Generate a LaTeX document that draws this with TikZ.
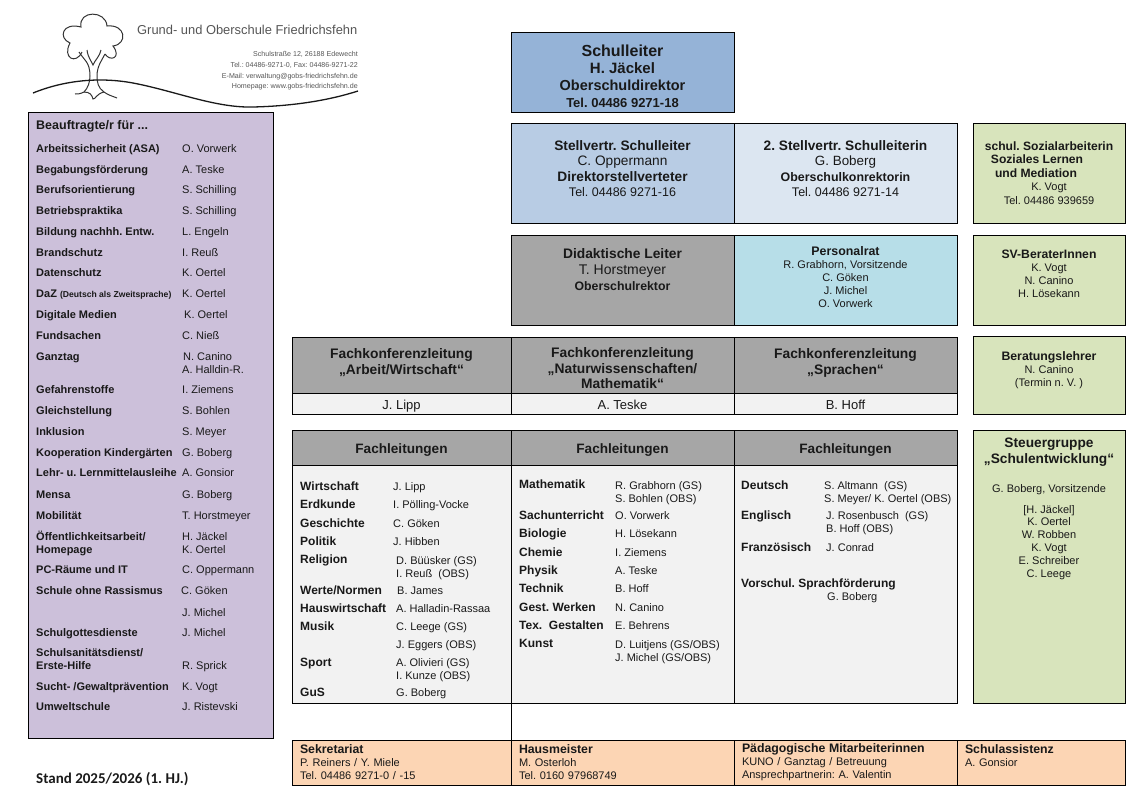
\documentclass[tikz,border=0pt]{standalone}
\usepackage{fontspec}
\setmainfont{Liberation Sans}
\newfontfamily\standfont{Carlito}
\frenchspacing
\newcommand{\fsz}[1]{\fontsize{#1}{#1}\selectfont}
\definecolor{leitung}{HTML}{95B3D7}
\definecolor{vertreter}{HTML}{B8CCE4}
\definecolor{zweiter}{HTML}{DCE6F1}
\definecolor{grau}{HTML}{A6A6A6}
\definecolor{hell}{HTML}{F2F2F2}
\definecolor{rat}{HTML}{B7DEE8}
\definecolor{gruen}{HTML}{D8E4BC}
\definecolor{orange}{HTML}{FCD5B4}
\definecolor{lila}{HTML}{CCC0DA}
\definecolor{logograu}{HTML}{555555}
\tikzset{
    box/.style={draw=black, line width=0.9pt, outer sep=0pt, inner sep=0pt, align=center, text=black!90},
    unten/.style={box, fill=orange, minimum height=45, inner xsep=8, align=left, font=\fontsize{11}{13}\selectfont},
    lab/.style={anchor=base west, inner sep=0pt, font=\bfseries\fsz{11}, text=black!90},
    wer/.style={anchor=base west, inner sep=0pt, font=\fsz{11}, text=black!90},
    fach/.style={anchor=base west, inner sep=0pt, font=\bfseries\fsz{12}, text=black!90},
    adr/.style={anchor=base east, inner sep=0pt, font=\fsz{7.1}, text=logograu},
}
\begin{document}
\begin{tikzpicture}[x=1pt, y=-1pt]
    \useasboundingbox (0,0) rectangle (1140,790);

    % logo
    \draw[line width=1pt, black!80] (82,52) .. controls (76,65) and (62,58) .. (70,43)
        .. controls (58,38) and (62,22) .. (81,27)
        .. controls (78,10) and (106,10) .. (107,26)
        .. controls (126,24) and (128,44) .. (113,46)
        .. controls (122,58) and (110,62) .. (105,54);
    \draw[line width=1pt, black!80] (79,52) .. controls (84,60) and (90,62) .. (90,76)
        .. controls (90,82) and (88,88) .. (84,92) .. controls (80,94) and (78,94) .. (75,94);
    \draw[line width=1pt, black!80] (105,54) .. controls (102,60) and (97,66) .. (97,76)
        .. controls (97,82) and (98,88) .. (104,92) .. controls (108,95) and (112,96) .. (117,98);
    \draw[line width=1pt, black!80] (87,50) .. controls (88,58) and (92,62) .. (93,65)
        .. controls (95,60) and (100,56) .. (101,50);
    \draw[line width=1pt, black!80] (84,92) .. controls (90,92) and (92,95) .. (93,99)
        .. controls (96,99) and (96,94) .. (104,92);
    \draw[line width=1.3pt, black!90] (33,93) .. controls (60,82) and (95,76) .. (133,83)
        .. controls (175,91) and (215,108) .. (253,107)
        .. controls (295,106) and (330,100) .. (358,91);
    \node[anchor=base west, inner sep=0pt, font=\fsz{12.9}, text=logograu] (schule) at (137,34) {Grund- und Oberschule Friedrichsfehn};
    \node[adr] (adr1) at (358,56) {Schulstraße 12, 26188 Edewecht};
    \node[adr] (adr2) at (358,67) {Tel.: 04486-9271-0, Fax: 04486-9271-22};
    \node[adr] (adr3) at (358,78) {E-Mail: verwaltung@gobs-friedrichsfehn.de};
    \node[adr] (adr4) at (358,88) {Homepage: www.gobs-friedrichsfehn.de};

    %%%%%%%%%%%%%%%%%%%%%%%%%%%%%%%%%%%%%%%%

    \node[box, fill=lila, minimum width=245, minimum height=626] (beauftragte) at (150.5,425) {};
    \node[anchor=base west, inner sep=0pt, font=\bfseries\fsz{12.5}, text=black!90] (btitel) at (36,129) {Beauftragte/r für ...};
    \node[lab] (asa) at (36,152) {Arbeitssicherheit (ASA)};
    \node[wer] (asan) at (182,152) {O. Vorwerk};
    \node[lab] (begab) at (36,173) {Begabungsförderung};
    \node[wer] (begabn) at (182,173) {A. Teske};
    \node[lab] (berufo) at (36,193) {Berufsorientierung};
    \node[wer] (berufon) at (182,193) {S. Schilling};
    \node[lab] (betrieb) at (36,214) {Betriebspraktika};
    \node[wer] (betriebn) at (182,214) {S. Schilling};
    \node[lab] (bildung) at (36,235) {Bildung nachhh. Entw.};
    \node[wer] (bildungn) at (182,235) {L. Engeln};
    \node[lab] (brand) at (36,256) {Brandschutz};
    \node[wer] (brandn) at (182,256) {I. Reuß};
    \node[lab] (daten) at (36,276) {Datenschutz};
    \node[wer] (datenn) at (182,276) {K. Oertel};
    \node[lab] (daz) at (36,297) {DaZ {\fsz{8.6}(Deutsch als Zweitsprache)}};
    \node[wer] (dazn) at (182,297) {K. Oertel};
    \node[lab] (digital) at (36,318) {Digitale Medien};
    \node[wer] (digitaln) at (184,318) {K. Oertel};
    \node[lab] (fund) at (36,339) {Fundsachen};
    \node[wer] (fundn) at (182,339) {C. Nieß};
    \node[lab] (ganztag) at (36,360) {Ganztag};
    \node[wer] (ganztagn) at (183,360) {N. Canino};
    \node[wer] (ganztagm) at (182,373) {A. Halldin-R.};
    \node[lab] (gefahr) at (36,393) {Gefahrenstoffe};
    \node[wer] (gefahrn) at (182,393) {I. Ziemens};
    \node[lab] (gleich) at (36,414) {Gleichstellung};
    \node[wer] (gleichn) at (182,414) {S. Bohlen};
    \node[lab] (inklusion) at (36,435) {Inklusion};
    \node[wer] (inklusionn) at (182,435) {S. Meyer};
    \node[lab] (koop) at (36,456) {Kooperation Kindergärten};
    \node[wer] (koopn) at (182,456) {G. Boberg};
    \node[lab] (lehr) at (36,476) {Lehr- u. Lernmittelausleihe};
    \node[wer] (lehrn) at (182,476) {A. Gonsior};
    \node[lab] (mensa) at (36,498) {Mensa};
    \node[wer] (mensan) at (182,498) {G. Boberg};
    \node[lab] (mobil) at (36,519) {Mobilität};
    \node[wer] (mobiln) at (182,519) {T. Horstmeyer};
    \node[lab] (oeffent) at (36,540) {Öffentlichkeitsarbeit/};
    \node[wer] (oeffentn) at (182,540) {H. Jäckel};
    \node[lab] (home) at (36,553) {Homepage};
    \node[wer] (homen) at (182,553) {K. Oertel};
    \node[lab] (pcraum) at (36,573) {PC-Räume und IT};
    \node[wer] (pcraumn) at (182,573) {C. Oppermann};
    \node[lab] (rassismus) at (36,594) {Schule ohne Rassismus};
    \node[wer] (rassismusn) at (181,594) {C. Göken};
    \node[wer] (rassismusm) at (182,616) {J. Michel};
    \node[lab] (gottes) at (36,636) {Schulgottesdienste};
    \node[wer] (gottesn) at (182,636) {J. Michel};
    \node[lab] (sani) at (36,656) {Schulsanitätsdienst/};
    \node[lab] (hilfe) at (36,669) {Erste-Hilfe};
    \node[wer] (hilfen) at (182,669) {R. Sprick};
    \node[lab] (sucht) at (36,690) {Sucht- /Gewaltprävention};
    \node[wer] (suchtn) at (182,690) {K. Vogt};
    \node[lab] (umwelt) at (36,710) {Umweltschule};
    \node[wer] (umweltn) at (182,710) {J. Ristevski};
    \node[anchor=base west, inner sep=0pt, font=\standfont\bfseries\fsz{15}, text=black!90] (stand) at (36,783) {Stand 2025/2026 (1. HJ.)};

    %%%%%%%%%%%%%%%%%%%%%%%%%%%%%%%%%%%%%%%%

    \node[box, fill=leitung, minimum width=223, minimum height=80, font=\fontsize{12}{17}\selectfont] (leiter) at (622.5,72)
        {~\\[4pt]{\bfseries\fsz{16}Schulleiter}\\{\bfseries\fsz{15}H. Jäckel}\\{\bfseries\fsz{14.5}Oberschuldirektor}\\{\bfseries\fsz{13}Tel. 04486 9271-18}};
    \node[box, fill=vertreter, minimum width=223, minimum height=100, font=\fontsize{12}{15.5}\selectfont] (stellv) at (622.5,173)
        {{\bfseries\fsz{13.7}Stellvertr. Schulleiter}\\{\fsz{13.7}C. Oppermann}\\{\bfseries\fsz{13.7}Direktorstellverteter}\\{\fsz{12.5}Tel. 04486 9271-16}\\[-7pt]~};
    \node[box, fill=zweiter, minimum width=223, minimum height=100, font=\fontsize{12}{15.5}\selectfont] (stellz) at (845.5,173)
        {{\bfseries\fsz{13.7}2. Stellvertr. Schulleiterin}\\{\fsz{13.4}G. Boberg}\\{\bfseries\fsz{12.4}Oberschulkonrektorin}\\{\fsz{12.5}Tel. 04486 9271-14}\\[-7pt]~};
    \node[box, fill=gruen, minimum width=152, minimum height=100, font=\fontsize{11}{13.5}\selectfont] (sozial) at (1049,173)
        {{\bfseries\fsz{12.1}schul. Sozialarbeiterin}\\\hspace*{-24pt}{\bfseries\fsz{12.1}Soziales Lernen}\\\hspace*{-26pt}{\bfseries\fsz{12.1}und Mediation}\\{\fsz{11}K. Vogt}\\{\fsz{11}Tel. 04486 939659}};
    \node[box, fill=grau, minimum width=223, minimum height=90, font=\fontsize{12}{16}\selectfont] (didakt) at (622.5,280)
        {{\bfseries\fsz{13.8}Didaktische Leiter}\\{\fsz{14}T. Horstmeyer}\\{\bfseries\fsz{12.3}Oberschulrektor}\\[6pt]~};
    \node[box, fill=rat, minimum width=223, minimum height=90, font=\fontsize{10}{13}\selectfont] (rat) at (845.5,280)
        {{\bfseries\fsz{12.4}Personalrat}\\{\fsz{11}R. Grabhorn, Vorsitzende}\\{\fsz{11}C. Göken}\\{\fsz{11}J. Michel}\\{\fsz{11}O. Vorwerk}\\[-8pt]~};
    \node[box, fill=gruen, minimum width=152, minimum height=90, font=\fontsize{10}{13}\selectfont] (sv) at (1049,280)
        {{\bfseries\fsz{12.2}SV-BeraterInnen}\\{\fsz{11}K. Vogt}\\{\fsz{11}N. Canino}\\{\fsz{11}H. Lösekann}\\[-1pt]~};

    %%%%%%%%%%%%%%%%%%%%%%%%%%%%%%%%%%%%%%%%

    \node[box, fill=grau, minimum width=219, minimum height=56, font=\fontsize{13.8}{15.5}\selectfont] (fk1) at (401.5,365)
        {\bfseries Fachkonferenzleitung\\\bfseries „Arbeit/Wirtschaft“\\[-8pt]~};
    \node[box, fill=grau, minimum width=223, minimum height=56, font=\fontsize{13.8}{15.5}\selectfont] (fk2) at (622.5,365)
        {~\\[1pt]\bfseries Fachkonferenzleitung\\\bfseries „Naturwissenschaften/\\\bfseries Mathematik“};
    \node[box, fill=grau, minimum width=223, minimum height=56, font=\fontsize{13.8}{15.5}\selectfont] (fk3) at (845.5,365)
        {\bfseries Fachkonferenzleitung\\\bfseries „Sprachen“\\[-8pt]~};
    \node[box, fill=hell, minimum width=219, minimum height=21, text height=11, text depth=0, font=\fsz{13}] (fk1n) at (401.5,403.5) {J. Lipp};
    \node[box, fill=hell, minimum width=223, minimum height=21, text height=11, text depth=0, font=\fsz{13}] (fk2n) at (622.5,403.5) {A. Teske};
    \node[box, fill=hell, minimum width=223, minimum height=21, text height=11, text depth=0, font=\fsz{13}] (fk3n) at (845.5,403.5) {B. Hoff};
    \node[box, fill=gruen, minimum width=152, minimum height=78, font=\fontsize{10}{13}\selectfont] (berat) at (1049,375)
        {{\bfseries\fsz{12.3}Beratungslehrer}\\{\fsz{11}N. Canino}\\{\fsz{11}(Termin n. V. )}\\[-1pt]~};

    %%%%%%%%%%%%%%%%%%%%%%%%%%%%%%%%%%%%%%%%

    \node[box, fill=grau, minimum width=219, minimum height=35, text height=11, text depth=0, font=\bfseries\fsz{13.6}] (fl1) at (401.5,447.5) {Fachleitungen};
    \node[box, fill=grau, minimum width=223, minimum height=35, text height=11, text depth=0, font=\bfseries\fsz{13.6}] (fl2) at (622.5,447.5) {Fachleitungen};
    \node[box, fill=grau, minimum width=223, minimum height=35, text height=11, text depth=0, font=\bfseries\fsz{13.6}] (fl3) at (845.5,447.5) {Fachleitungen};
    \node[box, fill=hell, minimum width=219, minimum height=238] (liste1) at (401.5,584) {};
    \node[box, fill=hell, minimum width=223, minimum height=238] (liste2) at (622.5,584) {};
    \node[box, fill=hell, minimum width=223, minimum height=238] (liste3) at (845.5,584) {};

    \node[fach] (wirt) at (300,490) {Wirtschaft};
    \node[wer] (wirtn) at (393,490) {J. Lipp};
    \node[fach] (erd) at (300,508) {Erdkunde};
    \node[wer] (erdn) at (393,508) {I. Pölling-Vocke};
    \node[fach] (gesch) at (300,527) {Geschichte};
    \node[wer] (geschn) at (393,527) {C. Göken};
    \node[fach] (politik) at (300,545) {Politik};
    \node[wer] (politikn) at (393,545) {J. Hibben};
    \node[fach] (reli) at (300,563) {Religion};
    \node[wer] (relin) at (396,564) {D. Büüsker (GS)};
    \node[wer] (relim) at (396,577) {I. Reuß~~(OBS)};
    \node[fach] (werte) at (300,594) {Werte/Normen};
    \node[wer] (werten) at (397,594) {B. James};
    \node[fach] (haus) at (300,612) {Hauswirtschaft};
    \node[wer] (hausn) at (396,612) {A. Halladin-Rassaa};
    \node[fach] (musik) at (300,630) {Musik};
    \node[wer] (musikn) at (396,630) {C. Leege (GS)};
    \node[wer] (musikm) at (396,648) {J. Eggers (OBS)};
    \node[fach] (sport) at (300,666) {Sport};
    \node[wer] (sportn) at (396,666) {A. Olivieri (GS)};
    \node[wer] (sportm) at (396,679) {I. Kunze (OBS)};
    \node[fach] (gus) at (300,696) {GuS};
    \node[wer] (gusn) at (396,696) {G. Boberg};

    \node[fach] (mathe) at (519,488) {Mathematik};
    \node[wer] (mathen) at (615,489) {R. Grabhorn (GS)};
    \node[wer] (mathem) at (615,502) {S. Bohlen (OBS)};
    \node[fach] (sach) at (519,519) {Sachunterricht};
    \node[wer] (sachn) at (615,519) {O. Vorwerk};
    \node[fach] (bio) at (519,537) {Biologie};
    \node[wer] (bion) at (615,537) {H. Lösekann};
    \node[fach] (chemie) at (519,556) {Chemie};
    \node[wer] (chemien) at (615,556) {I. Ziemens};
    \node[fach] (physik) at (519,574) {Physik};
    \node[wer] (physikn) at (615,574) {A. Teske};
    \node[fach] (technik) at (519,592) {Technik};
    \node[wer] (technikn) at (615,592) {B. Hoff};
    \node[fach] (werken) at (519,611) {Gest. Werken};
    \node[wer] (werkenn) at (615,611) {N. Canino};
    \node[fach] (textil) at (519,629) {Tex.~~Gestalten};
    \node[wer] (textiln) at (615,629) {E. Behrens};
    \node[fach] (kunst) at (519,647) {Kunst};
    \node[wer] (kunstn) at (615,648) {D. Luitjens (GS/OBS)};
    \node[wer] (kunstm) at (615,661) {J. Michel (GS/OBS)};

    \node[fach] (deutsch) at (741,489) {Deutsch};
    \node[wer] (deutschn) at (824,489) {S. Altmann~~(GS)};
    \node[wer] (deutschm) at (824,502) {S. Meyer/ K. Oertel (OBS)};
    \node[fach] (englisch) at (741,519) {Englisch};
    \node[wer] (englischn) at (826,519) {J. Rosenbusch~~(GS)};
    \node[wer] (englischm) at (826,532) {B. Hoff (OBS)};
    \node[fach] (franz) at (741,551) {Französisch};
    \node[wer] (franzn) at (826,551) {J. Conrad};
    \node[fach] (vorschul) at (741,587) {Vorschul. Sprachförderung};
    \node[wer] (vorschuln) at (827,600) {G. Boberg};

    \node[box, fill=gruen, minimum width=152, minimum height=273, font=\fontsize{11}{12.8}\selectfont] (steuer) at (1049,566.5)
        {{\bfseries\fsz{13.7}Steuergruppe}\\[2pt]{\bfseries\fsz{13.7}„Schulentwicklung“}\\[16pt]G. Boberg, Vorsitzende\\[8pt][H. Jäckel]\\K. Oertel\\W. Robben\\K. Vogt\\E. Schreiber\\C. Leege\\[105pt]~};

    %%%%%%%%%%%%%%%%%%%%%%%%%%%%%%%%%%%%%%%%

    \node[unten, text width=203] (sek) at (401.5,762.5)
        {{\bfseries\fsz{12.3}Sekretariat}\\P. Reiners / Y. Miele\\Tel. 04486 9271-0 / -15};
    \node[unten, text width=207] (meister) at (622.5,762.5)
        {{\bfseries\fsz{12.3}Hausmeister}\\M. Osterloh\\Tel. 0160 97968749};
    \node[unten, text width=207] (paed) at (845.5,762.5)
        {{\bfseries\fsz{12.3}Pädagogische Mitarbeiterinnen}\\KUNO / Ganztag / Betreuung\\Ansprechpartnerin: A. Valentin};
    \node[unten, text width=152] (assist) at (1041,762.5)
        {{\bfseries\fsz{12.3}Schulassistenz}\\A. Gonsior\\~};

    \draw[line width=0.9pt] (liste1.south east) -- (sek.north east);

\end{tikzpicture}
\end{document}
